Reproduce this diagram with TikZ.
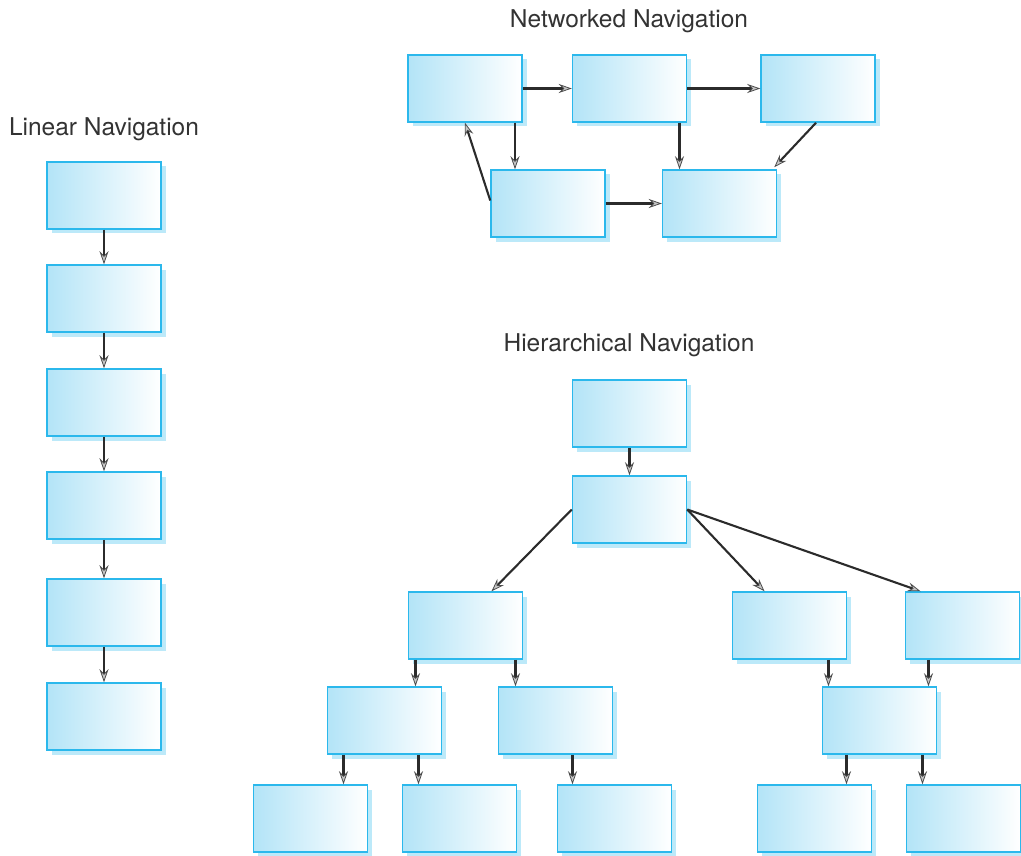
\documentclass[tikz,border=0pt]{standalone}
\usepackage{fontspec}
\setmainfont{TeX Gyre Heros}
\usetikzlibrary{shadows,arrows.meta,calc}
\definecolor{boxborder}{HTML}{2BB8EC}
\definecolor{boxleft}{HTML}{B3E4F7}
\definecolor{linecol}{HTML}{2B2B2B}
\definecolor{textcol}{HTML}{333333}
\tikzset{
  navbox/.style={draw=boxborder, line width=1.5pt, shading=axis, left color=boxleft, right color=white,
    minimum width=114pt, minimum height=67pt, inner sep=0pt,
    drop shadow={shadow xshift=4.5pt, shadow yshift=-4.5pt, fill=boxborder!45, opacity=0.7}},
  arr/.style={draw=linecol, line width=2.1pt,
    -{Stealth[length=13pt, width=9pt, inset=4.5pt, fill=gray!45, color=gray!60!black, line width=0.8pt]}},
  ttl/.style={text=textcol, font=\fontsize{24.5}{28}\selectfont, inner sep=0pt}
}
\begin{document}
\begin{tikzpicture}[x=1pt,y=-1pt]
\useasboundingbox (0,0) rectangle (1021,856);
% titles
\node[ttl] (tlin) at (104,129) {Linear Navigation};
\node[ttl] (tnet) at (629,21) {Networked Navigation};
\node[ttl] (thier) at (629,345) {Hierarchical Navigation};
% linear
\node[navbox] (l1) at (104,195.5) {};
\node[navbox] (l2) at (104,298.5) {};
\node[navbox] (l3) at (104,402.5) {};
\node[navbox] (l4) at (104,505.5) {};
\node[navbox] (l5) at (104,612.5) {};
\node[navbox] (l6) at (104,716.5) {};
\foreach \a/\b in {l1/l2,l2/l3,l3/l4,l4/l5,l5/l6}
  \draw[arr] (\a.south) -- (\b.north);
% networked
\node[navbox] (na) at (465,88.5) {};
\node[navbox] (nb) at (629.5,88.5) {};
\node[navbox] (nc) at (818,88.5) {};
\node[navbox] (nd) at (548,203.5) {};
\node[navbox] (ne) at (719.5,203.5) {};
\draw[arr] (na.east) -- (nb.west);
\draw[arr] (nb.east) -- (nc.west);
\draw[arr] ([xshift=50pt]na.south) -- ([xshift=-33pt]nd.north);
\draw[arr] ([yshift=3pt]nd.west) -- (na.south);
\draw[arr] ([xshift=50pt]nb.south) -- ([xshift=-40pt]ne.north);
\draw[arr] ([xshift=-2pt]nc.south) -- ([xshift=-3pt, yshift=2pt]ne.north east);
\draw[arr] (nd.east) -- (ne.west);
% hierarchical
\node[navbox] (h1) at (629.5,413.5) {};
\node[navbox] (h2) at (629.5,509.5) {};
\node[navbox] (h3a) at (465.5,625.5) {};
\node[navbox] (h3b) at (789.5,625.5) {};
\node[navbox] (h3c) at (962.5,625.5) {};
\node[navbox] (h4a) at (384.5,720.5) {};
\node[navbox] (h4b) at (555.5,720.5) {};
\node[navbox] (h4c) at (879.5,720.5) {};
\node[navbox] (h5a) at (310.5,818.5) {};
\node[navbox] (h5b) at (459.5,818.5) {};
\node[navbox] (h5c) at (614.5,818.5) {};
\node[navbox] (h5d) at (814.5,818.5) {};
\node[navbox] (h5e) at (963.5,818.5) {};
\draw[arr] (h1.south) -- (h2.north);
\draw[arr] (h2.west) -- ([xshift=26pt]h3a.north);
\draw[arr] (h2.east) -- ([xshift=-25pt]h3b.north);
\draw[arr] (h2.east) -- ([xshift=-42pt]h3c.north);
\draw[arr] ([xshift=-50pt]h3a.south) -- ([xshift=31pt]h4a.north);
\draw[arr] ([xshift=50pt]h3a.south) -- ([xshift=-40pt]h4b.north);
\draw[arr] ([xshift=39pt]h3b.south) -- ([xshift=-51pt]h4c.north);
\draw[arr] ([xshift=-34pt]h3c.south) -- ([xshift=49pt]h4c.north);
\draw[arr] ([xshift=-41pt]h4a.south) -- ([xshift=33pt]h5a.north);
\draw[arr] ([xshift=34pt]h4a.south) -- ([xshift=-41pt]h5b.north);
\draw[arr] ([xshift=17pt]h4b.south) -- ([xshift=-42pt]h5c.north);
\draw[arr] ([xshift=-33pt]h4c.south) -- ([xshift=32pt]h5d.north);
\draw[arr] ([xshift=43pt]h4c.south) -- ([xshift=-41pt]h5e.north);
\end{tikzpicture}
\end{document}
